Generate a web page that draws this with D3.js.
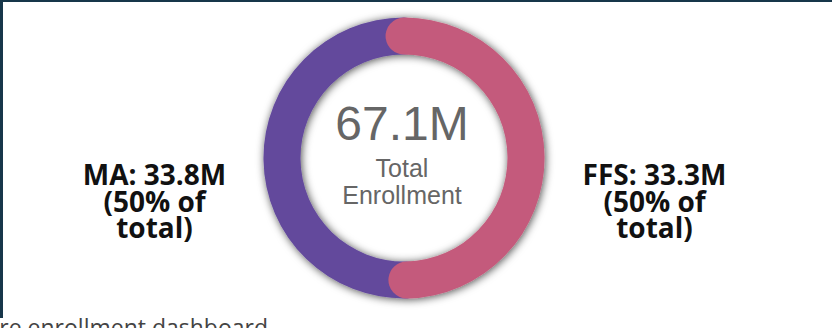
<!DOCTYPE html>
<html>
<head>
<meta charset="utf-8">
<script src="https://cdn.jsdelivr.net/npm/d3@7"></script>
<style>
  body { margin: 0; background: #fff; overflow: hidden; }
</style>
</head>
<body>
<div id="chart"></div>
<script>
// enrollment split (millions)
const segments = ["FFS", "MA"];
const enrollment = [33.3, 33.8];
const shares = [50, 50];
const totalLabel = "67.1M";
const colors = ["#c45a7b", "#634a9c"];

const width = 832, height = 328;
const cx = 404, cy = 158;
const outerR = 140.5, innerR = 103.5;
const thick = outerR - innerR;
const capAngle = (thick / 2) / ((outerR + innerR) / 2);

var svg = d3.select("#chart")
  .append("svg")
  .attr("width", width)
  .attr("height", height);

var defs = svg.append("defs");
var filter = defs.append("filter")
  .attr("id", "shadow")
  .attr("x", "-20%").attr("y", "-20%")
  .attr("width", "140%").attr("height", "140%");
filter.append("feDropShadow")
  .attr("dx", 1).attr("dy", 1)
  .attr("stdDeviation", 4)
  .attr("flood-color", "#000")
  .attr("flood-opacity", 0.7);

// frame lines of the dashboard tile
svg.append("rect").attr("x", 0).attr("y", 0).attr("width", width).attr("height", 2).attr("fill", "#17364a");
svg.append("rect").attr("x", 0).attr("y", 0).attr("width", 3).attr("height", 318).attr("fill", "#17364a");

var pie = d3.pie().sort(null).value(d => d)(enrollment);

// rounded ends poke past each slice's angle
var arc = d3.arc()
  .innerRadius(innerR)
  .outerRadius(outerR)
  .cornerRadius(thick / 2)
  .startAngle(d => d.startAngle - capAngle)
  .endAngle(d => d.endAngle + capAngle);

var ring = svg.append("g")
  .attr("transform", "translate(" + cx + "," + cy + ")")
  .attr("filter", "url(#shadow)");

// MA first so FFS caps sit on top
ring.selectAll("path")
  .data(pie.slice().reverse())
  .enter()
  .append("path")
  .attr("d", arc)
  .attr("fill", d => colors[d.index]);

// centre text
var center = svg.append("g")
  .attr("transform", "translate(" + (cx - 2) + "," + cy + ")")
  .attr("text-anchor", "middle")
  .attr("fill", "#666")
  .style("font-family", "'Liberation Sans', Arial, sans-serif");
center.append("text").attr("y", -18).attr("font-size", "48px").text(totalLabel);
center.append("text").attr("y", 19).attr("font-size", "25px").text("Total");
center.append("text").attr("y", 45.5).attr("font-size", "25px").text("Enrollment");

// side labels
var side = [
  { name: segments[1], value: enrollment[1], pct: shares[1], x: cx - 249.5 },
  { name: segments[0], value: enrollment[0], pct: shares[0], x: cx + 250.5 }
];

var labels = svg.selectAll(".side")
  .data(side)
  .enter()
  .append("text")
  .attr("class", "side")
  .attr("text-anchor", "middle")
  .attr("fill", "#111")
  .attr("font-size", "28px")
  .attr("font-weight", "bold")
  .style("font-family", "'Open Sans', sans-serif");

labels.each(function (d) {
  var t = d3.select(this);
  var lines = [d.name + ": " + d.value + "M", "(" + d.pct + "% of", "total)"];
  lines.forEach(function (line, i) {
    t.append("tspan").attr("x", d.x).attr("y", 185 + i * 26.5).text(line);
  });
});

// clipped caption below the tile
svg.append("text")
  .attr("x", 268)
  .attr("y", 336)
  .attr("text-anchor", "end")
  .attr("fill", "#444")
  .attr("font-size", "23px")
  .style("font-family", "'Open Sans', sans-serif")
  .text("medicare enrollment dashboard");
</script>
</body>
</html>
